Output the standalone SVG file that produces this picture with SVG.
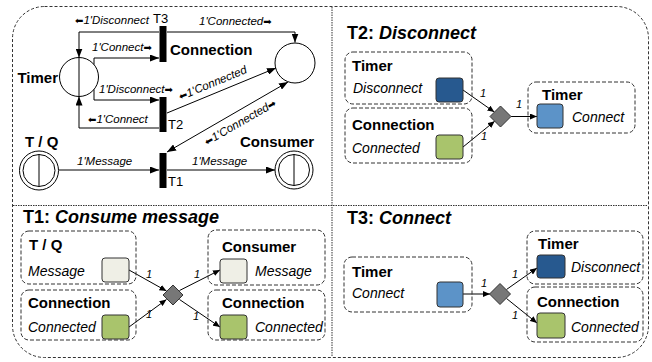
<svg xmlns="http://www.w3.org/2000/svg" width="652" height="362" viewBox="0 0 652 362">
<style>
text{font-family:"Liberation Sans",Arial,sans-serif;fill:#000}
.b{font-weight:bold;font-size:15px}
.i{font-style:italic;font-size:14px}
.l{font-style:italic;font-size:11.5px}
.n{font-style:italic;font-size:11px}
.t{font-weight:bold;font-size:18px}
.tr{font-size:13px}
.box{fill:none;stroke:#333;stroke-width:1;stroke-dasharray:4 2}
.sq{stroke:#333;stroke-width:1}
.ln{fill:none;stroke:#000;stroke-width:1}
.bar{fill:#000}
.pl{fill:#fff;stroke:#000;stroke-width:1}
.dia{fill:#777;stroke:#333;stroke-width:1}
.ar{font-family:"DejaVu Sans",sans-serif;font-style:normal;font-size:10px}
</style>
<defs>
<marker id="ah" markerWidth="9" markerHeight="7" refX="9" refY="3.5" orient="auto" markerUnits="userSpaceOnUse"><path d="M0,0 L9,3.5 L0,7 z" fill="#000"/></marker>
<marker id="as" markerWidth="9" markerHeight="7" refX="0" refY="3.5" orient="auto" markerUnits="userSpaceOnUse"><path d="M9,0 L0,3.5 L9,7 z" fill="#000"/></marker>
<marker id="sm" markerWidth="7" markerHeight="6" refX="7" refY="3" orient="auto" markerUnits="userSpaceOnUse"><path d="M0,0 L7,3 L0,6 z" fill="#000"/></marker>
</defs>

<g id="frame">
<rect x="12.5" y="6.5" width="636" height="351" rx="32" ry="32" fill="none" stroke="#333" stroke-width="1" stroke-dasharray="3 2"/>
<line x1="332" y1="7" x2="332" y2="357" stroke="#333" stroke-width="1" stroke-dasharray="1.5 1"/>
<line x1="13" y1="205.5" x2="648" y2="205.5" stroke="#333" stroke-width="1" stroke-dasharray="1.5 1"/>
</g>

<g id="connectors">
<path class="ln" d="M167,32 H295 V42.5" marker-end="url(#ah)"/>
<path class="ln" d="M159,32 H79 V57.5" marker-end="url(#ah)"/>
<line class="ln" x1="79" y1="57.5" x2="79" y2="96.5"/>
<path class="ln" d="M94,64.5 V58 H159" marker-end="url(#ah)"/>
<path class="ln" d="M94,89.5 V100 H159" marker-end="url(#ah)"/>
<path class="ln" d="M159,128 H79 V96.5" marker-end="url(#ah)"/>
<path class="ln" d="M167,113 L276,68" marker-end="url(#ah)"/>
<path class="ln" d="M167,152 L288,82" marker-start="url(#as)" marker-end="url(#ah)"/>
<path class="ln" d="M59,170 H159" marker-end="url(#ah)"/>
<path class="ln" d="M167,170 H275" marker-end="url(#ah)"/>
<path class="ln" d="M463,90 L494.4,112.1" marker-end="url(#sm)"/>
<path class="ln" d="M463,147 L494.7,121.2" marker-end="url(#sm)"/>
<path class="ln" d="M511,116.5 H537" marker-end="url(#sm)"/>
<path class="ln" d="M129,270 L166.5,291" marker-end="url(#sm)"/>
<path class="ln" d="M129,327 L166.5,299.5" marker-end="url(#sm)"/>
<path class="ln" d="M179.5,290.5 L220,270" marker-end="url(#sm)"/>
<path class="ln" d="M179.5,299.5 L220,327" marker-end="url(#sm)"/>
<path class="ln" d="M463,294 H490" marker-end="url(#sm)"/>
<path class="ln" d="M506.5,289.5 L537,268" marker-end="url(#sm)"/>
<path class="ln" d="M506.5,298.5 L537,323" marker-end="url(#sm)"/>
</g>

<g id="arc-labels">
<text class="l" x="75" y="24"><tspan class="ar">⬅</tspan>1'Disconnect</text>
<text class="l" x="199" y="25">1'Connected<tspan class="ar">➡</tspan></text>
<text class="l" x="92" y="51">1'Connect<tspan class="ar">➡</tspan></text>
<text class="l" x="99" y="93">1'Disconnect<tspan class="ar">➡</tspan></text>
<text class="l" x="88" y="123"><tspan class="ar">⬅</tspan>1'Connect</text>
<text class="l" x="77" y="165">1'Message</text>
<text class="l" x="192" y="165">1'Message</text>
<text class="l" text-anchor="middle" transform="translate(214,86.5) rotate(-22.4)"><tspan class="ar">⬅</tspan>1'Connected</text>
<text class="l" text-anchor="middle" transform="translate(242,125.5) rotate(-30)"><tspan class="ar">⬅</tspan>1'Connected<tspan class="ar">➡</tspan></text>
<text class="n" x="480" y="97">1</text>
<text class="n" x="481" y="140">1</text>
<text class="n" x="516" y="108">1</text>
<text class="n" x="146" y="278">1</text>
<text class="n" x="146" y="318">1</text>
<text class="n" x="194" y="278">1</text>
<text class="n" x="193" y="320">1</text>
<text class="n" x="481" y="287">1</text>
<text class="n" x="512" y="278">1</text>
<text class="n" x="512" y="319">1</text>
</g>

<g id="place-timer">
<circle class="pl" cx="79" cy="77" r="19.5" fill-opacity="0"/>
<text class="b" x="58" y="83" text-anchor="end">Timer</text>
</g>
<g id="place-connection">
<circle class="pl" cx="295" cy="63" r="20"/>
</g>
<g id="place-tq">
<circle class="pl" cx="39" cy="170.5" r="19.5"/>
<circle class="pl" cx="39" cy="170.5" r="16"/>
<line class="ln" x1="39" y1="154.5" x2="39" y2="186.5"/>
<text class="b" x="25" y="147">T / Q</text>
</g>
<g id="place-consumer">
<circle class="pl" cx="294" cy="170" r="19"/>
<circle class="pl" cx="294" cy="170" r="15.5"/>
<line class="ln" x1="294" y1="154.5" x2="294" y2="185.5"/>
<text class="b" x="240" y="147">Consumer</text>
</g>
<g id="t3">
<rect class="bar" x="159.5" y="26" width="7" height="36"/>
<text class="tr" x="153" y="23">T3</text>
<text class="b" x="170" y="55">Connection</text>
</g>
<g id="t2">
<rect class="bar" x="159.5" y="97" width="7" height="35"/>
<text class="tr" x="168" y="129">T2</text>
</g>
<g id="t1">
<rect class="bar" x="159.5" y="153" width="7" height="35"/>
<text class="tr" x="168" y="186">T1</text>
</g>

<g id="panel-t2">
<text class="t" x="347" y="39">T2: <tspan font-style="italic">Disconnect</tspan></text>
<g id="t2-timer-in">
<rect class="box" x="345" y="52" width="127" height="52" rx="8"/>
<text class="b" x="352" y="71">Timer</text>
<text class="i" x="353" y="93">Disconnect</text>
<rect class="sq" x="436" y="78" width="27" height="24" rx="3" fill="#27598f"/>
</g>
<g id="t2-connection-in">
<rect class="box" x="345" y="108" width="127" height="55" rx="8"/>
<text class="b" x="352" y="130">Connection</text>
<text class="i" x="352" y="153">Connected</text>
<rect class="sq" x="436" y="135" width="27" height="24" rx="3" fill="#a9c46c"/>
</g>
<polygon id="t2-diamond" class="dia" points="500.5,106 511,116.5 500.5,127 490,116.5"/>
<g id="t2-timer-out">
<rect class="box" x="528" y="82" width="107" height="51" rx="8"/>
<text class="b" x="542" y="100">Timer</text>
<rect class="sq" x="537" y="104" width="26" height="24" rx="3" fill="#5c93c8"/>
<text class="i" x="572" y="122">Connect</text>
</g>
</g>

<g id="panel-t1">
<text class="t" x="23" y="223">T1: <tspan font-style="italic">Consume message</tspan></text>
<g id="t1-tq">
<rect class="box" x="21" y="231" width="115" height="53" rx="8"/>
<text class="b" x="29" y="250">T / Q</text>
<text class="i" x="28" y="276">Message</text>
<rect class="sq" x="102" y="258" width="27" height="24" rx="3" fill="#efefe6"/>
</g>
<g id="t1-connection-in">
<rect class="box" x="21" y="290" width="115" height="50" rx="8"/>
<text class="b" x="28" y="308">Connection</text>
<text class="i" x="28" y="332">Connected</text>
<rect class="sq" x="102" y="315" width="27" height="24" rx="3" fill="#a9c46c"/>
</g>
<polygon id="t1-diamond" class="dia" points="173,285 183,295 173,305 163,295"/>
<g id="t1-consumer">
<rect class="box" x="208" y="230" width="117" height="55" rx="8"/>
<text class="b" x="222" y="252">Consumer</text>
<rect class="sq" x="220" y="259" width="27" height="24" rx="3" fill="#efefe6"/>
<text class="i" x="255" y="276">Message</text>
</g>
<g id="t1-connection-out">
<rect class="box" x="208" y="290" width="117" height="50" rx="8"/>
<text class="b" x="222" y="308">Connection</text>
<rect class="sq" x="220" y="315" width="27" height="24" rx="3" fill="#a9c46c"/>
<text class="i" x="255" y="332">Connected</text>
</g>
</g>

<g id="panel-t3">
<text class="t" x="347" y="224">T3: <tspan font-style="italic">Connect</tspan></text>
<g id="t3-timer-in">
<rect class="box" x="344" y="257" width="128" height="55" rx="8"/>
<text class="b" x="352" y="277">Timer</text>
<text class="i" x="352" y="298">Connect</text>
<rect class="sq" x="437" y="282" width="26" height="25" rx="3" fill="#5c93c8"/>
</g>
<polygon id="t3-diamond" class="dia" points="500,283.5 510.5,294 500,304.5 489.5,294"/>
<g id="t3-timer-out">
<rect class="box" x="527" y="231" width="116" height="53" rx="8"/>
<text class="b" x="538" y="249">Timer</text>
<rect class="sq" x="537" y="255" width="28" height="23" rx="3" fill="#27598f"/>
<text class="i" x="571" y="272">Disconnect</text>
</g>
<g id="t3-connection-out">
<rect class="box" x="527" y="287" width="116" height="55" rx="8"/>
<text class="b" x="537" y="307">Connection</text>
<rect class="sq" x="537" y="313" width="28" height="25" rx="3" fill="#a9c46c"/>
<text class="i" x="571" y="332">Connected</text>
</g>
</g>
</svg>
